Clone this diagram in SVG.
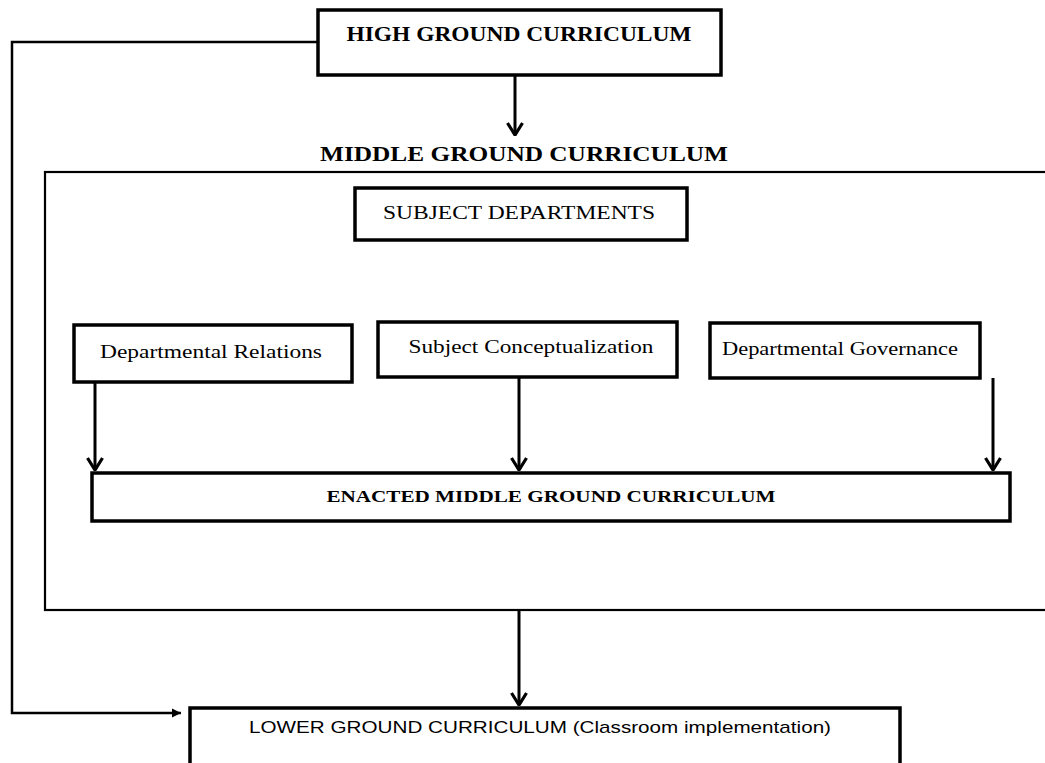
<svg xmlns="http://www.w3.org/2000/svg" width="1045" height="763" viewBox="0 0 1045 763">
<style>
.box{fill:#fff;stroke:#000;stroke-width:3.5}
.frame{fill:none;stroke:#000;stroke-width:2.2}
.conn{fill:none;stroke:#000;stroke-width:3}
.thin{fill:none;stroke:#000;stroke-width:2.5}
.serif{font-family:"Liberation Serif","Times New Roman",serif;fill:#000}
.b{font-weight:bold}
.sans{font-family:"Liberation Sans",Arial,sans-serif;fill:#000}
</style>
<defs>
<marker id="chev" viewBox="0 0 14 18" refX="13" refY="9" markerWidth="14" markerHeight="18" markerUnits="userSpaceOnUse" orient="auto">
<path d="M1,1.5 L13,9 L1,16.5" fill="none" stroke="#000" stroke-width="3.2"/>
</marker>
<marker id="tri" viewBox="0 0 10 10" refX="10" refY="5" markerWidth="9" markerHeight="11" markerUnits="userSpaceOnUse" orient="auto">
<path d="M0,0 L10,5 L0,10 Z" fill="#000"/>
</marker>
</defs>
<g id="middle-frame">
<rect class="frame" x="45" y="172" width="1010" height="438"/>
<text class="serif b" x="524" y="161" font-size="22" text-anchor="middle" textLength="408" lengthAdjust="spacingAndGlyphs">MIDDLE GROUND CURRICULUM</text>
</g>
<g id="connectors">
<polyline class="thin" points="318,42 12,42 12,713 181,713" marker-end="url(#tri)"/>
<line class="conn" x1="515" y1="75" x2="515" y2="135" marker-end="url(#chev)"/>
<line class="conn" x1="95" y1="382" x2="95" y2="470" marker-end="url(#chev)"/>
<line class="conn" x1="519" y1="377" x2="519" y2="470" marker-end="url(#chev)"/>
<line class="conn" x1="993" y1="378" x2="993" y2="470" marker-end="url(#chev)"/>
<line class="conn" x1="519" y1="610" x2="519" y2="705" marker-end="url(#chev)"/>
</g>
<g id="high">
<rect class="box" x="318" y="10" width="403" height="65"/>
<text class="serif b" x="519" y="41" font-size="20" text-anchor="middle" textLength="345" lengthAdjust="spacingAndGlyphs">HIGH GROUND CURRICULUM</text>
</g>
<g id="subject-departments">
<rect class="box" x="355" y="188" width="332" height="52"/>
<text class="serif" x="519" y="219" font-size="18" text-anchor="middle" textLength="272" lengthAdjust="spacingAndGlyphs">SUBJECT DEPARTMENTS</text>
</g>
<g id="dept-relations">
<rect class="box" x="74" y="325" width="278" height="57"/>
<text class="serif" x="211" y="358" font-size="18" text-anchor="middle" textLength="222" lengthAdjust="spacingAndGlyphs">Departmental Relations</text>
</g>
<g id="subject-conceptualization">
<rect class="box" x="378" y="322" width="299" height="55"/>
<text class="serif" x="531" y="353" font-size="18" text-anchor="middle" textLength="245" lengthAdjust="spacingAndGlyphs">Subject Conceptualization</text>
</g>
<g id="dept-governance">
<rect class="box" x="710" y="323" width="270" height="55"/>
<text class="serif" x="840" y="355" font-size="18" text-anchor="middle" textLength="236" lengthAdjust="spacingAndGlyphs">Departmental Governance</text>
</g>
<g id="enacted">
<rect class="box" x="92" y="473" width="918" height="48"/>
<text class="serif b" x="551" y="502" font-size="16" text-anchor="middle" textLength="449" lengthAdjust="spacingAndGlyphs">ENACTED MIDDLE GROUND CURRICULUM</text>
</g>
<g id="lower">
<rect class="box" x="190" y="708" width="710" height="70"/>
<text class="sans" x="540" y="733" font-size="17" text-anchor="middle" textLength="582" lengthAdjust="spacingAndGlyphs">LOWER GROUND CURRICULUM (Classroom implementation)</text>
</g>
</svg>
